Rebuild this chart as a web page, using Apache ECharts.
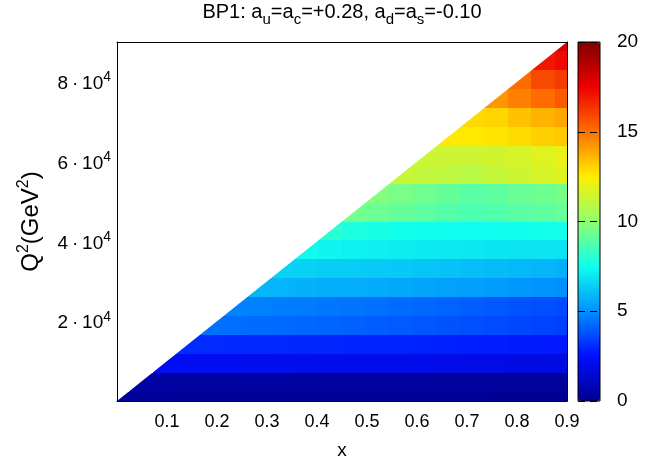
<!DOCTYPE html>
<html>
<head>
<meta charset="utf-8">
<script src="https://cdn.jsdelivr.net/npm/echarts@6/dist/echarts.min.js"></script>
<style>
  html, body { margin: 0; padding: 0; background: #fff; }
  #chart { width: 667px; height: 461px; }
</style>
</head>
<body>
<div id="chart"></div>
<script>
// Grid of (x, Q^2) points on which the ratio was evaluated
const xGrid = [0, 0.0474, 0.0947, 0.1421, 0.1895, 0.2368, 0.2842, 0.3316, 0.3789, 0.4263,
               0.4737, 0.5211, 0.5684, 0.6158, 0.6632, 0.7105, 0.7579, 0.8053, 0.8526, 0.9];
const q2Grid = [0, 4737, 9474, 14211, 18947, 23684, 28421, 33158, 37895, 42632,
                47368, 52105, 56842, 61579, 66316, 71053, 75789, 80526, 85263, 90000];

// z values, one row per Q^2 point (null where Q^2 > s*x is unphysical)
const _ = null;
const zRows = [
  [0.14,0.14,0.14,0.14,0.13,0.13,0.13,0.13,0.12,0.12,0.12,0.12,0.11,0.11,0.11,0.11,0.1,0.1,0.1,0.1],
  [_,0.42,0.42,0.41,0.40,0.40,0.39,0.38,0.37,0.36,0.35,0.34,0.33,0.32,0.31,0.30,0.29,0.28,0.27,0.26],
  [_,_,2.2,2.2,2.18,2.16,2.14,2.12,2.1,2.08,2.06,2.04,2.02,2.0,1.98,1.95,1.92,1.89,1.86,1.83],
  [_,_,_,3.05,3.03,3.01,2.99,2.97,2.95,2.93,2.91,2.89,2.87,2.84,2.81,2.78,2.75,2.72,2.69,2.66],
  [_,_,_,_,4.4,4.35,4.3,4.25,4.2,4.14,4.08,4.02,3.96,3.9,3.82,3.74,3.66,3.58,3.5,3.42],
  [_,_,_,_,_,4.75,4.7,4.64,4.58,4.52,4.45,4.38,4.3,4.22,4.13,4.04,3.94,3.84,3.74,3.64],
  [_,_,_,_,_,_,5.85,5.8,5.75,5.7,5.65,5.6,5.55,5.48,5.41,5.34,5.26,5.18,5.1,5.02],
  [_,_,_,_,_,_,_,6.5,6.45,6.4,6.35,6.3,6.25,6.18,6.11,6.04,5.97,5.89,5.81,5.73],
  [_,_,_,_,_,_,_,_,7.4,7.3,7.2,7.15,7.1,7.05,7.0,6.95,6.9,6.87,6.85,6.85],
  [_,_,_,_,_,_,_,_,_,8.0,7.8,7.65,7.55,7.5,7.45,7.45,7.45,7.5,7.55,7.6],
  [_,_,_,_,_,_,_,_,_,_,9.4,9.3,9.15,9.0,8.85,8.7,8.8,8.95,9.05,9.2],
  [_,_,_,_,_,_,_,_,_,_,_,9.75,9.55,9.35,9.15,8.95,9.05,9.25,9.35,9.5],
  [_,_,_,_,_,_,_,_,_,_,_,_,11.25,11.15,11.05,10.95,11.2,11.4,11.6,11.8],
  [_,_,_,_,_,_,_,_,_,_,_,_,_,11.35,11.35,11.35,11.45,11.6,11.8,12.0],
  [_,_,_,_,_,_,_,_,_,_,_,_,_,_,12.6,12.6,12.7,12.85,13.1,13.25],
  [_,_,_,_,_,_,_,_,_,_,_,_,_,_,_,12.9,13.0,13.4,13.7,13.9],
  [_,_,_,_,_,_,_,_,_,_,_,_,_,_,_,_,14.25,14.7,15.1,15.5],
  [_,_,_,_,_,_,_,_,_,_,_,_,_,_,_,_,_,15.1,15.9,16.2],
  [_,_,_,_,_,_,_,_,_,_,_,_,_,_,_,_,_,_,17.0,17.3],
  [_,_,_,_,_,_,_,_,_,_,_,_,_,_,_,_,_,_,_,18.0]
];

// Kinematic limit Q^2 = s*x (s = 1e5 GeV^2); the region above it is blanked
const kinLimit = [[0, 0], [0.9, 90000]];

// Axis ticks
const xTickValues = [0.1, 0.2, 0.3, 0.4, 0.5, 0.6, 0.7, 0.8, 0.9];
const xTickLabels = ['0.1', '0.2', '0.3', '0.4', '0.5', '0.6', '0.7', '0.8', '0.9'];
const q2TickValues = [20000, 40000, 60000, 80000];
const q2TickMantissa = ['2', '4', '6', '8'];
const q2TickExponent = '4';
const cbTickValues = [0, 5, 10, 15, 20];
const cbTickLabels = ['0', '5', '10', '15', '20'];

// jet-like palette
const palette = ['#000090', '#000fff', '#0090ff', '#0fffee', '#90ff70',
                 '#ffee00', '#ff7000', '#ee0000', '#7f0000'];

const FONT = 'Liberation Sans';

const cells = [];
zRows.forEach((row, j) => {
  row.forEach((z, i) => {
    if (z !== null) cells.push([xGrid[i], q2Grid[j], z]);
  });
});
const dx = xGrid[1] - xGrid[0];
const dq = q2Grid[1] - q2Grid[0];

function renderCell(params, api) {
  const xc = api.value(0), qc = api.value(1);
  const a = api.coord([xc - dx / 2, qc - dq / 2]);
  const b = api.coord([xc + dx / 2, qc + dq / 2]);
  const x0 = Math.round(a[0]), x1 = Math.round(b[0]);
  const y0 = Math.round(b[1]), y1 = Math.round(a[1]);
  const cs = params.coordSys;
  const shape = echarts.graphic.clipRectByRect(
    { x: x0, y: y0, width: x1 - x0, height: y1 - y0 },
    { x: cs.x, y: cs.y, width: cs.width, height: cs.height });
  if (!shape) return null;
  return { type: 'rect', shape: shape, style: { fill: api.visual('color') } };
}

function pickLabel(values, labels) {
  return function (v) {
    for (let k = 0; k < values.length; k++) {
      if (Math.abs(values[k] - v) < 1e-6 * Math.max(1, Math.abs(v))) return labels[k];
    }
    return '';
  };
}
const xLabel = pickLabel(xTickValues, xTickLabels);
const cbLabel = pickLabel(cbTickValues, cbTickLabels);
const q2Label = function (v) {
  const k = q2TickValues.indexOf(v);
  return k < 0 ? '' : '{b|' + q2TickMantissa[k] + '\u2009\u00b7\u200910}{s|' + q2TickExponent + '}';
};

const base = { fontFamily: FONT, fontWeight: 'normal', color: '#000' };
const supRich = {
  b: Object.assign({ fontSize: 19, lineHeight: 23, verticalAlign: 'bottom' }, base),
  s: Object.assign({ fontSize: 14, lineHeight: 10, verticalAlign: 'top' }, base)
};

const frameLine = { show: true, onZero: false, lineStyle: { color: '#000', width: 1 } };

const chart = echarts.init(document.getElementById('chart'), null, { renderer: 'canvas' });
chart.setOption({
  animation: false,
  backgroundColor: '#fff',
  title: {
    text: '{n|BP1: a}{s|u}{n|=a}{s|c}{n|=+0.28, a}{s|d}{n|=a}{s|s}{n|=-0.10}',
    left: 342, top: 2, textAlign: 'center', padding: 0,
    textStyle: {
      fontFamily: FONT, fontWeight: 'normal', fontSize: 20, color: '#000',
      rich: {
        n: Object.assign({ fontSize: 20, verticalAlign: 'top' }, base),
        s: Object.assign({ fontSize: 15, verticalAlign: 'bottom', padding: [10, 0, 0, 0] }, base)
      }
    }
  },
  grid: [
    { left: 117, top: 42, width: 450, height: 359, show: false, outerBoundsMode: 'none', containLabel: false },
    { left: 578, top: 42, width: 22, height: 359, show: true, z: 10, outerBoundsMode: 'none', containLabel: false,
      borderColor: '#000', borderWidth: 1, backgroundColor: 'transparent' }
  ],
  xAxis: [
    { type: 'value', gridIndex: 0, min: 0, max: 0.9, interval: 0.1, z: 5,
      axisLine: frameLine, axisTick: { show: false }, splitLine: { show: false },
      axisLabel: { formatter: xLabel, fontFamily: FONT, fontSize: 18, color: '#000', margin: 12 },
      name: 'x', nameLocation: 'middle', nameGap: 40,
      nameTextStyle: { fontFamily: FONT, fontSize: 19, color: '#000' } },
    { type: 'value', gridIndex: 0, position: 'top', min: 0, max: 0.9, z: 5,
      axisLine: frameLine, axisTick: { show: false }, splitLine: { show: false },
      axisLabel: { show: false } },
    { type: 'value', gridIndex: 1, min: 0, max: 1, show: false }
  ],
  yAxis: [
    { type: 'value', gridIndex: 0, min: 0, max: 90000, interval: 20000, z: 5,
      axisLine: frameLine, axisTick: { show: false }, splitLine: { show: false },
      axisLabel: { formatter: q2Label, margin: 6, color: '#000', rich: supRich },
      name: '{b|Q}{s|2}{b|(GeV}{s|2}{b|)}', nameLocation: 'middle', nameRotate: 90, nameGap: 74,
      nameTextStyle: {
        rich: {
          b: Object.assign({ fontSize: 24, lineHeight: 27, verticalAlign: 'bottom' }, base),
          s: Object.assign({ fontSize: 16, lineHeight: 12, verticalAlign: 'top' }, base)
        }
      } },
    { type: 'value', gridIndex: 0, position: 'right', min: 0, max: 90000, z: 5,
      axisLine: frameLine, axisTick: { show: false }, splitLine: { show: false },
      axisLabel: { show: false } },
    { type: 'value', gridIndex: 1, position: 'right', min: 0, max: 20, interval: 5, z: 10,
      axisLine: { show: false }, axisTick: { show: false },
      splitLine: { show: true, lineStyle: { color: '#000', width: 1, type: [7, 5] } },
      axisLabel: { formatter: cbLabel, fontFamily: FONT, fontSize: 19, color: '#000', margin: 17 } }
  ],
  visualMap: {
    type: 'continuous', min: 0, max: 20, dimension: 2, seriesIndex: 0,
    calculable: false, orient: 'vertical', left: 578, top: 42, padding: 0,
    itemWidth: 22, itemHeight: 359, text: null, showLabel: false,
    inRange: { color: palette }
  },
  series: [
    { type: 'custom', xAxisIndex: 0, yAxisIndex: 0, data: cells,
      encode: { x: 0, y: 1 }, renderItem: renderCell, silent: true, z: 2 },
    { type: 'line', xAxisIndex: 0, yAxisIndex: 0, data: kinLimit, symbol: 'none', silent: true, z: 3,
      lineStyle: { width: 0 }, areaStyle: { color: '#fff', opacity: 1, origin: 'end' } }
  ]
});
</script>
</body>
</html>
